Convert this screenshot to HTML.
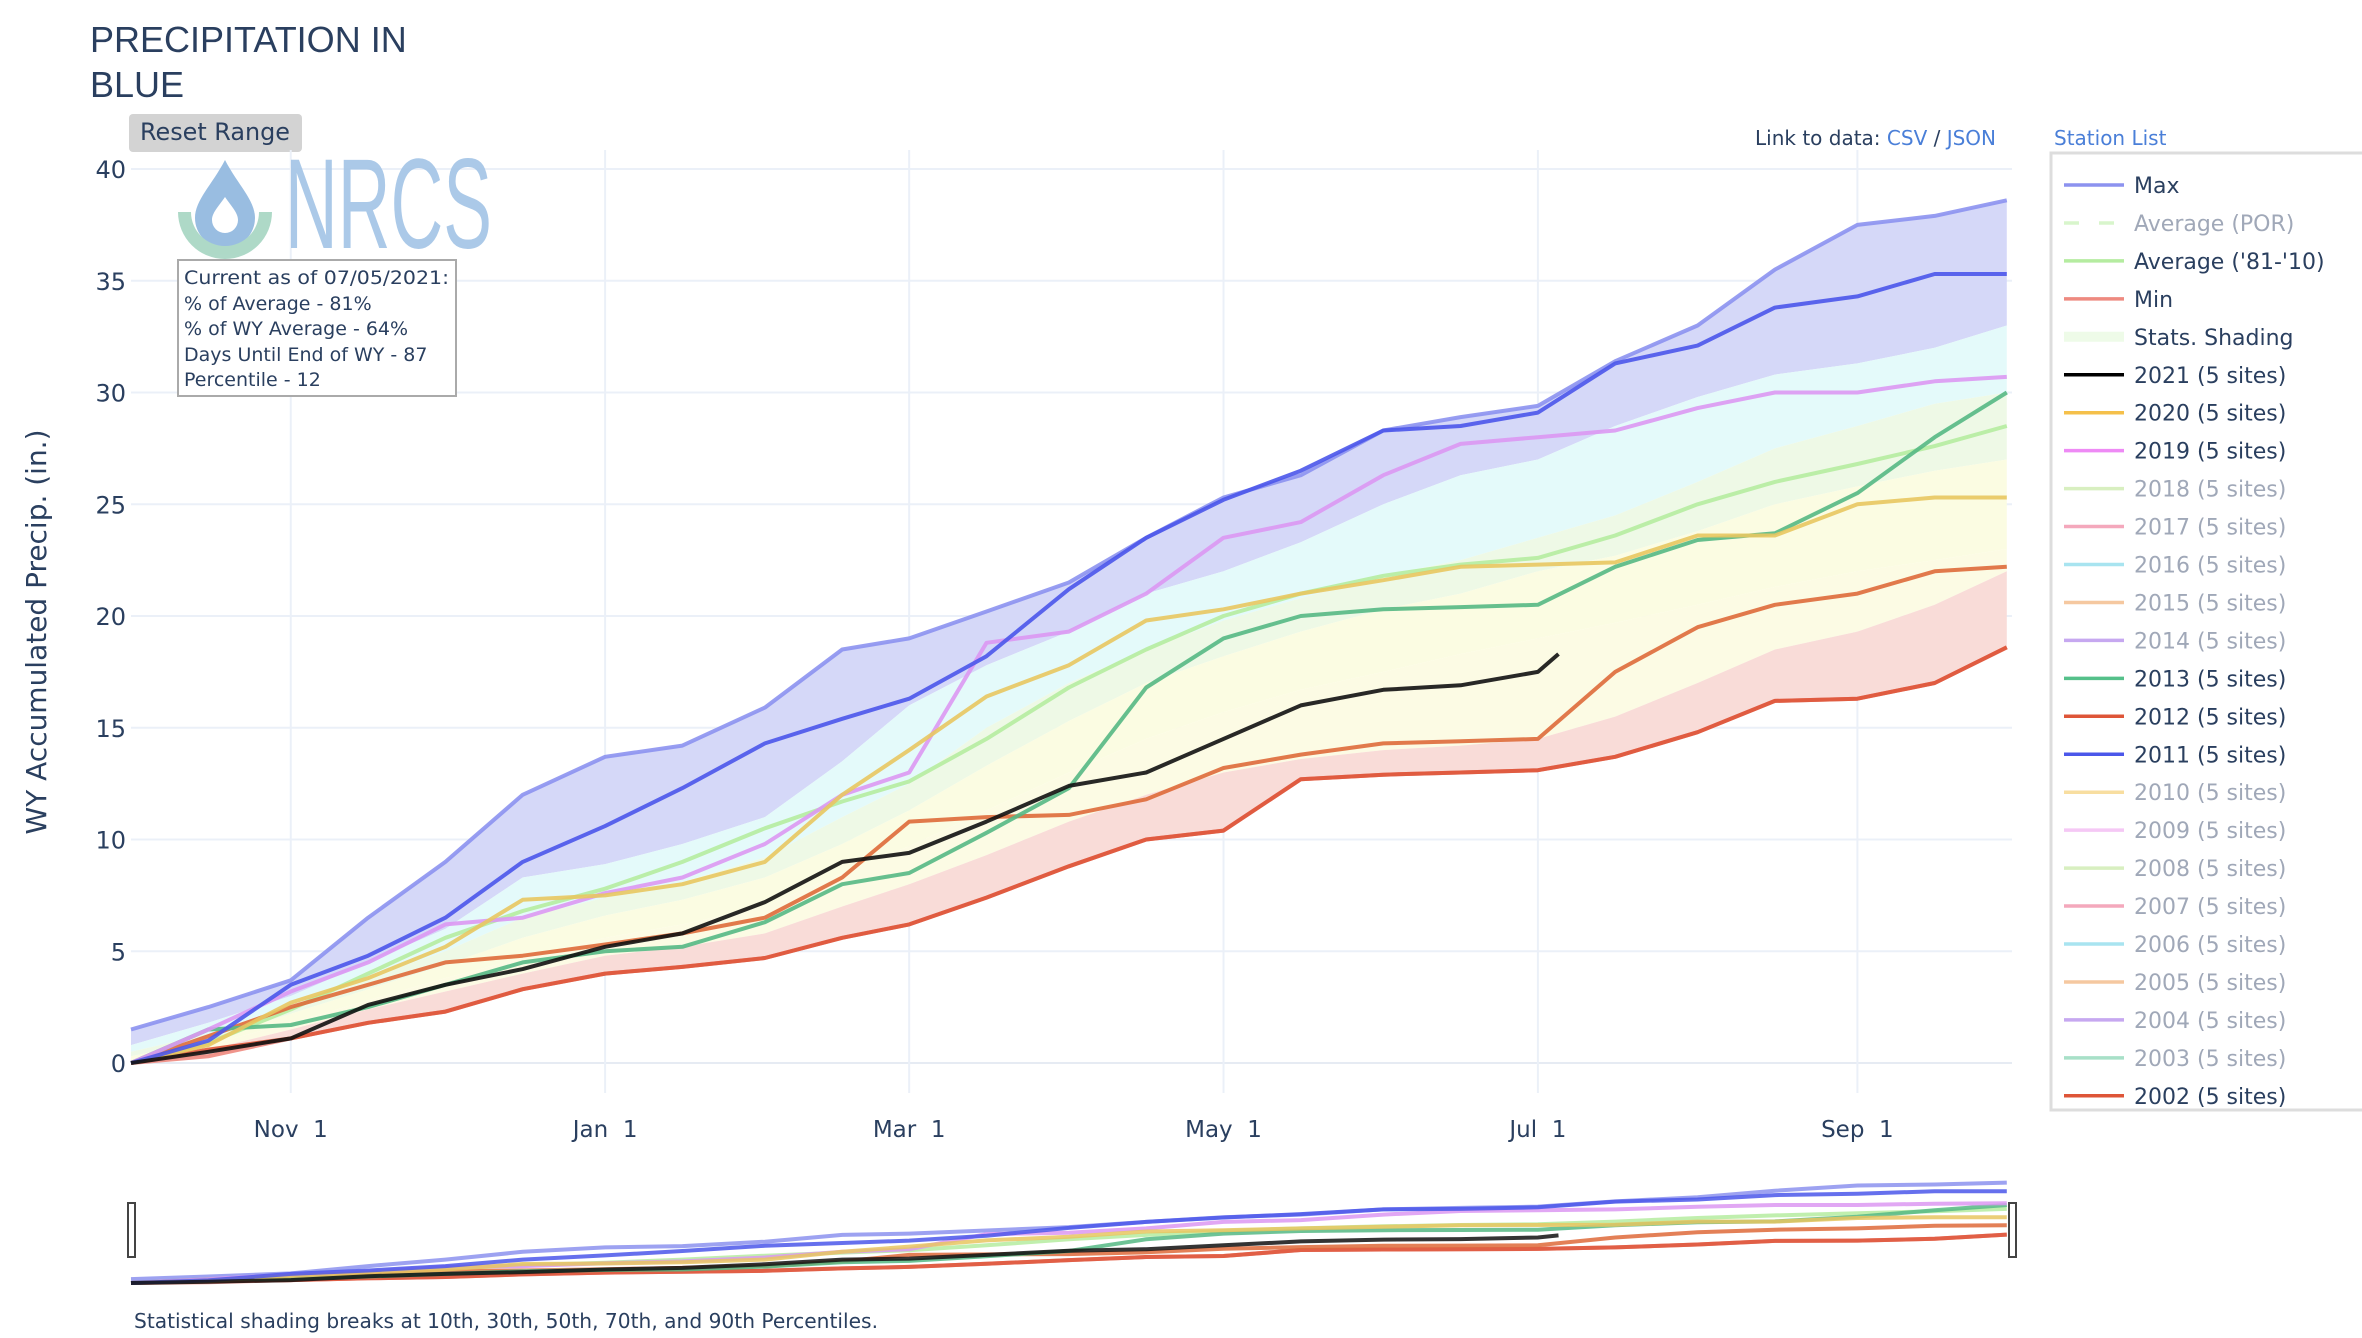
<!DOCTYPE html>
<html><head><meta charset="utf-8">
<style>
body{margin:0;background:#fff;width:2362px;height:1338px;overflow:hidden;font-family:"Liberation Sans",sans-serif;}
svg{display:block}
</style></head>
<body>
<svg id="chart" width="2362" height="1338" xmlns="http://www.w3.org/2000/svg">
<text x="90" y="52" font-size="36" fill="#2a3f5f" font-family="Liberation Sans, sans-serif">PRECIPITATION IN</text>
<text x="90" y="97" font-size="36" fill="#2a3f5f" font-family="Liberation Sans, sans-serif">BLUE</text>
<g>
<rect x="129" y="114" width="173" height="38" rx="4" fill="#d3d3d3"/>
<text x="215" y="140" text-anchor="middle" font-size="24" fill="#2a3f5f" font-family="DejaVu Sans, sans-serif" textLength="150" lengthAdjust="spacingAndGlyphs">Reset Range</text>
</g>
<g id="grid"></g>
<g id="bands"></g>
<g id="lines"></g>
<g opacity="0.9">
<path d="M225,160 C212,185 195,200 195,218 A30,30 0 0 0 255,218 C255,200 238,185 225,160 Z M225,197 C232,207 238,213 238,220 A13,13 0 0 1 212,220 C212,213 218,207 225,197 Z" fill="#8fb6de" fill-rule="evenodd"/>
<path d="M178,212 L191,212 A34,34 0 0 0 259,212 L272,212 A47,47 0 0 1 178,212 Z" fill="#a6d5c2"/>
<text x="285" y="248" font-size="128" fill="#a3c4e6" textLength="207" lengthAdjust="spacingAndGlyphs" font-family="DejaVu Sans ExtraLight, Liberation Sans Narrow, sans-serif" font-weight="200">NRCS</text>
</g>
<g font-family="DejaVu Sans, sans-serif">
<rect x="178" y="260" width="278" height="136" fill="#fff" stroke="#aaa" stroke-width="2"/>
<text x="184" y="284" font-size="19" fill="#2a3f5f" textLength="265" lengthAdjust="spacingAndGlyphs">Current as of 07/05/2021:</text>
<text x="184" y="310" font-size="19" fill="#2a3f5f">% of Average - 81%</text>
<text x="184" y="335" font-size="19" fill="#2a3f5f">% of WY Average - 64%</text>
<text x="184" y="361" font-size="19" fill="#2a3f5f">Days Until End of WY - 87</text>
<text x="184" y="386" font-size="19" fill="#2a3f5f">Percentile - 12</text>
</g>
<text transform="translate(46,632) rotate(-90)" text-anchor="middle" font-size="28" fill="#2a3f5f" font-family="DejaVu Sans, sans-serif" textLength="405" lengthAdjust="spacingAndGlyphs">WY Accumulated Precip. (in.)</text>
<text x="1755" y="145" font-size="20" fill="#2a3f5f" font-family="DejaVu Sans, sans-serif">Link to data: <tspan fill="#4a7fd8">CSV</tspan> / <tspan fill="#4a7fd8">JSON</tspan></text>
<text x="2054" y="145" font-size="20" fill="#4a7fd8" font-family="DejaVu Sans, sans-serif">Station List</text>
<rect x="2051" y="153" width="330" height="957" fill="#fff" stroke="#ddd" stroke-width="3"/>
<g id="legend"></g>
<g id="slider"></g>
<text x="134" y="1328" font-size="20" fill="#2a3f5f" font-family="DejaVu Sans, sans-serif" textLength="744" lengthAdjust="spacingAndGlyphs">Statistical shading breaks at 10th, 30th, 50th, 70th, and 90th Percentiles.</text>
</svg>
<script>
const days=[0,15,31,46,61,76,92,107,123,138,151,166,182,197,212,227,243,258,273,288,304,319,335,350,364];
const maxVals=[1.5,2.5,3.7,6.5,9,12,13.7,14.2,15.9,18.5,19,20.2,21.5,23.5,25.3,26.3,28.3,28.9,29.4,31.4,33,35.5,37.5,37.9,38.6];
const p90=[0.8,1.8,3,4.5,6,8.3,8.9,9.8,11,13.5,16,17.8,19.3,21,22,23.3,25,26.3,27,28.5,29.8,30.8,31.3,32,33];
const p70=[0.5,1.3,2.6,3.8,5,6.5,7.4,8.1,9.2,11,12.5,15,17,18.5,19.8,20.8,21.8,22.5,23.5,24.5,26,27.5,28.5,29.5,30];
const p50=[0.3,1,2.2,3.3,4.4,5.6,6.6,7.3,8.3,9.8,11.3,13.3,15.3,17,18.2,19.3,20.3,21,22,22.7,23.8,25,25.8,26.5,27];
const p30=[0.2,0.8,1.8,2.8,3.8,4.7,5.6,6.2,7,8.5,9.7,11.3,13,14.5,15.7,16.7,17.5,18.3,19,19.7,20.5,21.3,22,22.5,23];
const p10=[0.1,0.6,1.5,2.4,3.2,4,4.8,5.2,5.8,7,8,9.3,10.8,12,13,13.6,14,14.2,14.5,15.5,17,18.5,19.3,20.5,22];
const minVals=[0,0.3,1.1,1.8,2.3,3.3,4,4.3,4.7,5.6,6.2,7.4,8.8,10,10.4,12.7,12.9,13,13.1,13.7,14.8,16.2,16.3,17,18.6];
const avg8110=[0,0.9,2.4,4,5.6,6.8,7.8,9,10.5,11.7,12.6,14.5,16.8,18.5,20,21,21.8,22.3,22.6,23.6,25,26,26.8,27.6,28.5];
const y2011=[0,1,3.5,4.8,6.5,9,10.6,12.3,14.3,15.4,16.3,18.2,21.2,23.5,25.2,26.5,28.3,28.5,29.1,31.3,32.1,33.8,34.3,35.3,35.3];
const y2012=[0,1.2,2.5,3.5,4.5,4.8,5.3,5.8,6.5,8.3,10.8,11,11.1,11.8,13.2,13.8,14.3,14.4,14.5,17.5,19.5,20.5,21,22,22.2];
const y2013=[0,1.5,1.7,2.5,3.5,4.5,5,5.2,6.3,8,8.5,10.3,12.3,16.8,19,20,20.3,20.4,20.5,22.2,23.4,23.7,25.5,28,30];
const y2019=[0,1.5,3.2,4.5,6.2,6.5,7.6,8.3,9.8,12,13,18.8,19.3,21,23.5,24.2,26.3,27.7,28,28.3,29.3,30,30,30.5,30.7];
const y2020=[0,0.8,2.7,3.8,5.2,7.3,7.5,8,9,12,14,16.4,17.8,19.8,20.3,21,21.6,22.2,22.3,22.4,23.6,23.6,25,25.3,25.3];
const y2002=[0,0.6,1.1,1.8,2.3,3.3,4,4.3,4.7,5.6,6.2,7.4,8.8,10,10.4,12.7,12.9,13,13.1,13.7,14.8,16.2,16.3,17,18.6];
const days2021=[0,15,31,46,61,76,92,107,123,138,151,166,182,197,212,227,243,258,273,277];
const y2021=[0,0.5,1.1,2.6,3.5,4.2,5.2,5.8,7.2,9,9.4,10.8,12.4,13,14.5,16,16.7,16.9,17.5,18.3];
const yTicks=[0,5,10,15,20,25,30,35,40];
const xTickDays=[31,92,151,212,273,335];
const xTickLabels=["Nov  1","Jan  1","Mar  1","May  1","Jul  1","Sep  1"];
const legendNames=["Max","Average (POR)","Average ('81-'10)","Min","Stats. Shading","2021 (5 sites)","2020 (5 sites)","2019 (5 sites)","2018 (5 sites)","2017 (5 sites)","2016 (5 sites)","2015 (5 sites)","2014 (5 sites)","2013 (5 sites)","2012 (5 sites)","2011 (5 sites)","2010 (5 sites)","2009 (5 sites)","2008 (5 sites)","2007 (5 sites)","2006 (5 sites)","2005 (5 sites)","2004 (5 sites)","2003 (5 sites)","2002 (5 sites)"];
const legendColors=["#8c92ef","#d8f5cc","#b5eca0","#ee8a80","#eefbe8","#000000","#f5c04a","#ee8af5","#d8efc0","#f4a8bc","#a8e4f0","#f5c8a0","#c6a8f0","#55c08a","#de5538","#4b57ea","#f8dea0","#f5c8f5","#d8efc0","#f4a8bc","#a8e4f0","#f5c8a0","#c6a8f0","#a8e0c8","#de5538"];
const legendVisible=[1,0,1,1,1,1,1,1,0,0,0,0,0,1,1,1,0,0,0,0,0,0,0,0,1];

const NS="http://www.w3.org/2000/svg";
const X0=131,X1=2012,Y0=1063,Y40=169;
const xs=d=>X0+(X1-X0)*d/365;
const ys=v=>Y0-(Y0-Y40)*v/40;
const sy=v=>1283-104*v/40;
function mk(tag,attrs,parent){const e=document.createElementNS(NS,tag);for(const k in attrs)e.setAttribute(k,attrs[k]);parent.appendChild(e);return e;}
function pts(dd,vv,yf){return dd.map((d,i)=>xs(d).toFixed(1)+","+yf(vv[i]).toFixed(1)).join(" ");}
const grid=document.getElementById('grid');
yTicks.forEach(t=>{
  const l=mk('line',{x1:X0,x2:X1,y1:ys(t),y2:ys(t),stroke:t===0?'#e6ebf3':'#ebf0f8','stroke-width':2},grid);
  
  
  const tx=mk('text',{x:126,y:ys(t)+9,'text-anchor':'end','font-size':24,fill:'#2a3f5f','font-family':'DejaVu Sans, sans-serif'},grid);
  tx.textContent=t;
  
  
});
xTickDays.forEach((d,i)=>{
  const l=mk('line',{x1:xs(d),x2:xs(d),y1:150,y2:Y0+30,stroke:'#ebf0f8','stroke-width':2},grid);
  
  
  const tx=mk('text',{x:xs(d),y:1137,'text-anchor':'middle','font-size':23,fill:'#2a3f5f','font-family':'DejaVu Sans, sans-serif'},grid);
  tx.textContent=xTickLabels[i].replace("  ","\u00a0\u00a0");
  
  
});
const bands=document.getElementById('bands');
const bandDefs=[[maxVals,p90,'#d5d8f8'],[p90,p70,'#e4fafa'],[p70,p50,'#eef9e6'],[p50,p30,'#fbfce2'],[p30,p10,'#fcfbe4'],[p10,minVals,'#f9dcd8']];
bandDefs.forEach(b=>{
  const top=pts(days,b[0],ys);
  const bot=days.slice().reverse().map((d,i)=>xs(d).toFixed(1)+","+ys(b[1][days.length-1-i]).toFixed(1)).join(" ");
  const p=mk('polygon',{points:top+" "+bot,fill:b[2]},bands);
  
  
});
const lines=document.getElementById('lines');
const series=[[days,minVals,'#ee8a80','min-line'],[days,maxVals,'#8c92ef','max-line'],[days,avg8110,'#b5eca0','average-81-10-line'],[days,y2002,'#de5538','series-2002'],[days,y2012,'#de6a3a','series-2012'],[days,y2013,'#55b884','series-2013'],[days,y2019,'#dc98f2','series-2019'],[days,y2020,'#e8c660','series-2020'],[days,y2011,'#4b57ea','series-2011'],[days2021,y2021,'#111','series-2021']];
series.forEach(s=>{
  const l=mk('polyline',{points:pts(s[0],s[1],ys),fill:'none',stroke:s[2],'stroke-width':4,'stroke-linejoin':'round',opacity:0.9},lines);
  
  
});
const leg=document.getElementById('legend');
legendNames.forEach((n,i)=>{
  const y=185+i*37.95;
  const g=mk('g',{},leg);
  
  
  const attrs={x1:2064,x2:2124,y1:y,y2:y,stroke:legendColors[i],'stroke-width':i===4?10:3.5};
  if(i===1)attrs['stroke-dasharray']='15,20';
  mk('line',attrs,g);
  const t=mk('text',{x:2134,y:y+8,'font-size':22,fill:legendVisible[i]?'#2a3f5f':'#a0a8b8','font-family':'DejaVu Sans, sans-serif'},g);
  t.textContent=n;
});
const sl=document.getElementById('slider');
series.forEach(s=>{
  const l=mk('polyline',{points:pts(s[0],s[1],sy),fill:'none',stroke:s[2],'stroke-width':4,opacity:0.85},sl);
  
  
});
[128,2009].forEach(x=>{
  const h=mk('rect',{x:x,y:1203,width:7,height:54,fill:'#fff',stroke:'#444','stroke-width':2},sl);
  
  
});
</script>
</body></html>
